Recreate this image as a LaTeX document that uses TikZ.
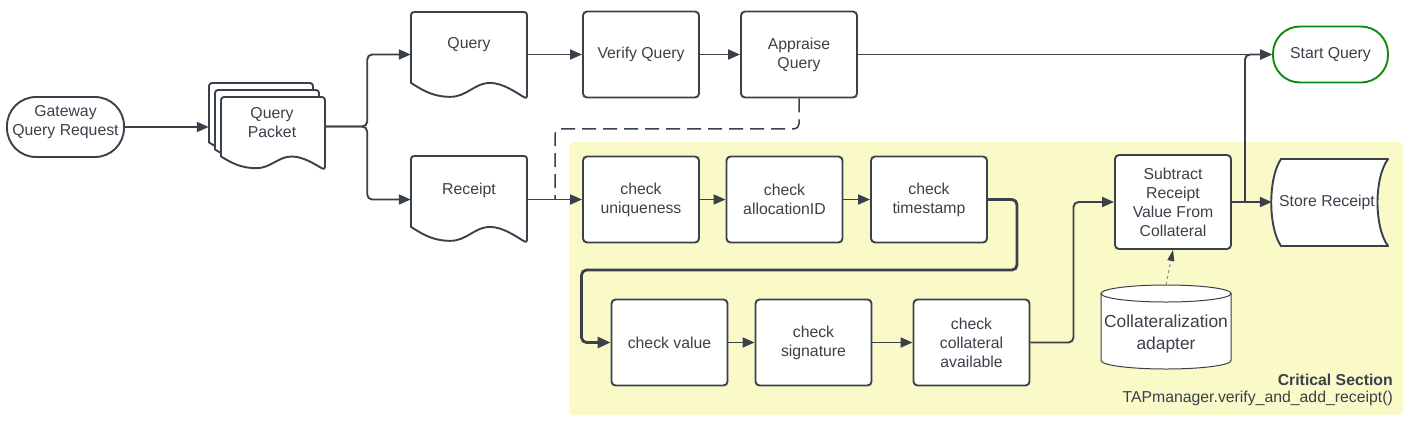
\documentclass[tikz,border=0pt]{standalone}
\usepackage{fontspec}
\setmainfont{Liberation Sans}
\usetikzlibrary{arrows.meta,calc}
\definecolor{lc}{RGB}{58,65,74}
\definecolor{crit}{RGB}{249,250,200}
\definecolor{gr}{RGB}{16,138,16}
\newcommand\bodyfont{\fontsize{15.8}{19}\selectfont}
\newcommand\bigfont{\fontsize{17.4}{22}\selectfont}
% document shape: x0, y0 (top-left), width, height (to right bottom corner)
\newcommand\docshape[4]{%
  \filldraw[docsty] ({#1+#3},{#2+#4})
    .. controls ({#1+0.9*#3},{#2+0.92*#4}) and ({#1+0.79*#3},{#2+0.815*#4}) .. ({#1+0.68*#3},{#2+0.815*#4})
    .. controls ({#1+0.55*#3},{#2+0.815*#4}) and ({#1+0.48*#3},{#2+0.975*#4}) .. ({#1+0.34*#3},{#2+0.975*#4})
    .. controls ({#1+0.19*#3},{#2+0.975*#4}) and ({#1+0.1*#3},{#2+0.9*#4}) .. (#1,{#2+0.815*#4})
    [rounded corners=3pt] -- (#1,#2) -- ({#1+#3},#2) -- cycle;}
\begin{document}
\begin{tikzpicture}[x=1pt,y=-1pt,
  lnk/.style={draw=lc, line width=1.9pt, rounded corners=5pt},
  arr/.style={lnk, -{Triangle[length=12pt,width=10pt]}},
  dsh/.style={draw=lc, line width=1.5pt, dash pattern=on 14pt off 7pt, rounded corners=5pt},
  dotarr/.style={draw=black!45, line width=1pt, dash pattern=on 3pt off 3pt, -{Triangle[length=11pt,width=7pt,color=lc,fill=lc]}},
  txt/.style={text=lc, font=\bodyfont, align=center, inner sep=0pt},
  box/.style={txt, draw=lc, line width=1.9pt, fill=white, rounded corners=4pt, minimum width=116pt, minimum height=86pt},
  ghost/.style={draw=none, inner sep=0pt},
  docsty/.style={draw=lc, fill=white, line width=1.9pt, line join=round}]
\useasboundingbox (0,0) rectangle (1408,421);
\fill[crit, rounded corners=5pt] (569,142) rectangle (1403,415);

% Gateway Query Request
\node[draw=lc, line width=1.9pt, fill=white, rounded corners=29pt, minimum width=117pt, minimum height=60pt, inner sep=0pt] (gw) at (65.5,127) {};
\node[txt] (gwt) at (65.5,122) {Gateway\\Query Request};

% Query Packet (multi-document)
\docshape{209}{83}{104}{73}
\docshape{215}{90}{104}{73}
\docshape{221}{97}{104}{73}
\node[ghost, minimum width=116pt, minimum height=87pt] (qp) at (267,126.5) {};
\node[txt] (qpt) at (272,122.5) {Query\\Packet};

% Query document
\docshape{411}{12}{116}{87}
\node[ghost, minimum width=116pt, minimum height=85pt] (q) at (469,54.5) {};
\node[txt] (qt) at (469,45) {Query};

\node[box] (vq) at (641,54.5) {Verify Query};
\node[box] (aq) at (799,54.5) {Appraise\\Query};
\node[txt, draw=gr, line width=1.9pt, fill=white, rounded corners=27pt, minimum width=115pt, minimum height=56pt] (sq) at (1330.5,54.5) {Start Query};

% Receipt document
\docshape{411}{156}{116}{87}
\node[ghost, minimum width=116pt, minimum height=87pt] (rc) at (469,199.5) {};
\node[txt] (rct) at (469,190) {Receipt};

\node[box] (cu) at (641,199.5) {check\\uniqueness};
\node[box] (ca) at (784.5,199.5) {check\\allocationID};
\node[box] (ct) at (929,199.5) {check\\timestamp};
\node[box] (cv) at (669.5,342.5) {check value};
\node[box] (cs) at (813.5,342.5) {check\\signature};
\node[box] (cc) at (971.5,342.5) {check\\collateral\\available};
\node[box, minimum height=94pt] (sub) at (1173,202) {Subtract\\Receipt\\Value From\\Collateral};

% Store Receipt (stored data)
\filldraw[docsty] (1281,159) -- (1388,159) .. controls (1374,178) and (1374,227) .. (1388,246)
  -- (1281,246) .. controls (1268,227) and (1268,178) .. cycle;
\node[ghost, minimum width=116pt, minimum height=87pt] (st) at (1330,202) {};
\node[txt] (stt) at (1327,202) {Store Receipt};

% Collateralization adapter (cylinder)
\filldraw[draw=lc, fill=white, line width=1pt] (1101,293.5) -- (1101,360.5)
  arc[start angle=180, end angle=360, x radius=65pt, y radius=8.5pt] -- (1231,293.5) -- cycle;
\filldraw[draw=lc, fill=white, line width=1pt] (1166,293.5) ellipse [x radius=65pt, y radius=8.5pt];
\node[ghost, minimum width=130pt, minimum height=84pt] (cyl) at (1166,327) {};
\node[txt, font=\bigfont, align=center] (cylt) at (1166,334) {Collateralization\\adapter};

% Critical section label
\node[txt, anchor=east, font=\bodyfont\bfseries] (crit1) at (1393,379.5) {Critical Section};
\node[txt, anchor=east] (crit2) at (1393,398.5) {TAPmanager.verify\_and\_add\_receipt()};

% connectors
\coordinate (j) at (555,199.5);
\coordinate (br) at (1245,202);
\draw[arr] (gw.east) -- (gw.east -| qp.west);
\draw[arr] (qp.east) -- ++(42,0) |- (q.west);
\draw[arr] (qp.east) -- ++(42,0) |- (rc.west);
\draw[arr] (q.east) -- (vq.west);
\draw[arr] (vq) -- (aq);
\draw[arr] (aq.east) -- (sq.west);
\draw[dsh] (aq.south) -- ++(0,30.5) -| (j);
\draw[arr] (rc.east) -- (cu.west);
\draw[arr] (cu) -- (ca);
\draw[arr] (ca) -- (ct);
\draw[lnk, line width=2.8pt, -{Triangle[length=13pt,width=11pt]}] (ct.east) -- ++(29,0) -- ++(0,70.5) -| ($(cv.west)+(-29,0)$) -- (cv.west);
\draw[arr] (cv) -- (cs);
\draw[arr] (cs) -- (cc);
\draw[arr] (cc.east) -- ++(43,0) |- (sub.west);
\draw[arr] (sub.east) -- (st.west);
\draw[arr] (br) |- (sq.west);
\draw[dotarr] (cyl.north) -- (sub.south);
\end{tikzpicture}
\end{document}
